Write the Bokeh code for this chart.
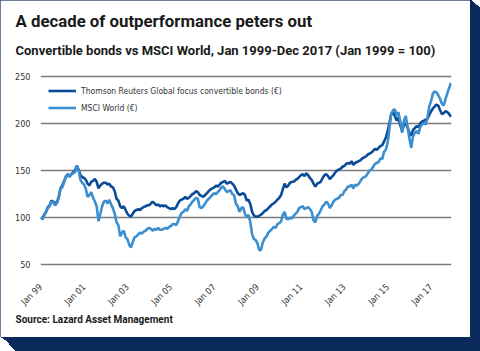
import pandas as pd
from bokeh.plotting import figure
from bokeh.models import (Range1d, FixedTicker, Legend, LegendItem, Title,
                          DatetimeTickFormatter)
from bokeh.embed import file_html
from bokeh.resources import INLINE

# ---------------- data (monthly, Jan 1999 = 100) ----------------
START = "1999-01-01"
convertibles = [
    100, 99, 103, 106, 111, 113, 118, 117, 115, 116, 122, 131,      # 1999
    134, 139, 143, 146, 144, 146, 148, 150, 155, 151, 145, 143,      # 2000
    142, 140, 136, 134, 138, 139, 141, 138, 131, 134, 136, 137,      # 2001
    137, 135, 136, 133, 132, 128, 120, 118, 112, 110, 112, 108,      # 2002
    104, 102, 101, 104, 107, 108, 109, 108, 110, 111, 112, 113,      # 2003
    113, 115, 117, 115, 113, 114, 112, 113, 112, 113, 111, 110,      # 2004
    109, 110, 109, 111, 115, 118, 119, 120, 122, 120, 121, 123,      # 2005
    125, 126, 128, 127, 124, 123, 122, 124, 126, 128, 130, 131,      # 2006
    132, 134, 133, 135, 137, 138, 139, 136, 137, 138, 136, 134,      # 2007
    130, 126, 124, 125, 126, 124, 118, 119, 114, 106, 102, 101,      # 2008
    101, 102, 103, 105, 107, 108, 110, 112, 114, 115, 117, 119,      # 2009
    121, 124, 130, 136, 132, 134, 137, 138, 138, 140, 141, 143,      # 2010
    145, 146, 144, 147, 145, 142, 140, 136, 133, 136, 137, 138,      # 2011
    142, 145, 146, 144, 141, 143, 145, 148, 150, 151, 152, 154,      # 2012
    155, 157, 158, 157, 160, 156, 158, 159, 160, 161, 163, 164,      # 2013
    165, 167, 168, 169, 171, 173, 172, 174, 176, 177, 181, 185,      # 2014
    192, 201, 210, 212, 208, 203, 206, 198, 192, 198, 200, 196,      # 2015
    190, 187, 193, 195, 197, 196, 200, 202, 203, 204, 205, 209,      # 2016
    213, 216, 218, 220, 219, 214, 210, 211, 213, 212, 210, 207,      # 2017
]
msci_world = [
    100, 98, 102, 106, 110, 112, 117, 116, 113, 115, 121, 131,       # 1999
    132, 138, 144, 146, 143, 146, 147, 148, 155, 150, 140, 137,      # 2000
    135, 130, 122, 124, 127, 121, 117, 112, 96, 104, 112, 117,       # 2001
    118, 115, 119, 114, 110, 104, 95, 92, 80, 84, 86, 79,            # 2002
    77, 71, 68, 74, 79, 80, 82, 84, 83, 85, 86, 88,                  # 2003
    89, 88, 86, 88, 87, 89, 87, 87, 88, 89, 88, 90,                  # 2004
    91, 93, 93, 92, 96, 101, 105, 106, 109, 107, 112, 114,           # 2005
    117, 119, 121, 120, 111, 110, 112, 115, 118, 120, 122, 124,      # 2006
    126, 125, 127, 129, 132, 133, 130, 127, 128, 129, 125, 124,      # 2007
    115, 112, 106, 110, 111, 104, 100, 103, 95, 82, 77, 76,          # 2008
    72, 65, 66, 74, 78, 80, 84, 86, 88, 90, 89, 93,                  # 2009
    94, 96, 103, 106, 99, 98, 100, 99, 102, 104, 106, 110,           # 2010
    111, 112, 109, 110, 111, 109, 106, 97, 95, 102, 104, 108,        # 2011
    112, 114, 117, 115, 110, 113, 117, 119, 120, 121, 124, 124,      # 2012
    128, 130, 133, 133, 135, 131, 135, 134, 136, 139, 142, 143,      # 2013
    144, 147, 150, 151, 154, 157, 158, 159, 163, 162, 170, 172,      # 2014
    180, 196, 210, 214, 215, 208, 212, 202, 190, 203, 208, 196,      # 2015
    184, 174, 186, 190, 192, 189, 196, 199, 200, 199, 206, 218,      # 2016
    224, 232, 234, 233, 230, 226, 221, 219, 226, 232, 238, 243,      # 2017
]
series_names = ["Thomson Reuters Global focus convertible bonds (\u20ac)",
                "MSCI World (\u20ac)"]
y_ticks = [50, 100, 150, 200, 250]
x_tick_years = [1999, 2001, 2003, 2005, 2007, 2009, 2011, 2013, 2015, 2017]

title_text = "A decade of outperformance peters out"
subtitle_text = "Convertible bonds vs MSCI World, Jan 1999-Dec 2017 (Jan 1999 = 100)"
source_text = "Source: Lazard Asset Management"

# ---------------- styling ----------------
W, H = 470, 337
DARK = "#0b4a97"
LIGHT = "#3b8fd0"
NAVY = "#0b2a5c"
NARROW = "'Liberation Sans Narrow', 'DejaVu Sans Condensed', 'Roboto', sans-serif"
BOLD = "Roboto"

dates = pd.date_range(START, periods=len(convertibles), freq="MS")
x0 = dates[0] - pd.Timedelta(days=3)
x1 = dates[-1] + pd.Timedelta(days=9)

p = figure(width=W, height=H, output_backend="svg", toolbar_location=None,
           x_axis_type="datetime",
           x_range=Range1d(x0, x1), y_range=Range1d(48, 252),
           min_border_left=40, min_border_right=19,
           min_border_top=74, min_border_bottom=71)
p.outline_line_color = None
p.background_fill_color = "white"
p.border_fill_color = "white"

r1 = p.line(dates, convertibles, line_color=DARK, line_width=2.6)
r2 = p.line(dates, msci_world, line_color=LIGHT, line_width=2.6)

# axes
p.yaxis.ticker = FixedTicker(ticks=y_ticks)
p.yaxis.axis_line_color = None
p.yaxis.major_tick_line_color = None
p.yaxis.minor_tick_line_color = None
p.yaxis.major_label_standoff = 4
p.yaxis.major_label_text_font = NARROW
p.yaxis.major_label_text_font_size = "9px"
p.yaxis.major_label_text_color = "#333333"

tick_ms = [pd.Timestamp(f"{y}-01-01").value / 1e6 for y in x_tick_years]
p.xaxis.ticker = FixedTicker(ticks=tick_ms)
fmt = "%b %y"
p.xaxis.formatter = DatetimeTickFormatter(
    milliseconds=fmt, seconds=fmt, minsec=fmt, minutes=fmt, hourmin=fmt,
    hours=fmt, days=fmt, months=fmt, years=fmt, context=None)
p.xaxis.major_label_orientation = 0.785398
p.xaxis.axis_line_color = None
p.xaxis.major_tick_line_color = None
p.xaxis.minor_tick_line_color = None
p.xaxis.major_label_standoff = 13
p.xaxis.major_label_text_font = NARROW
p.xaxis.major_label_text_font_size = "9px"
p.xaxis.major_label_text_color = "#333333"

p.xgrid.grid_line_color = None
p.ygrid.ticker = FixedTicker(ticks=y_ticks)
p.ygrid.grid_line_color = "#7b7b7b"
p.ygrid.grid_line_width = 1.6

legend = Legend(items=[LegendItem(label=series_names[0], renderers=[r1]),
                       LegendItem(label=series_names[1], renderers=[r2])],
                location="top_left", margin=8, padding=8,
                glyph_width=28, glyph_height=17, label_height=17, spacing=0,
                label_standoff=5, border_line_color=None,
                background_fill_alpha=0,
                label_text_font=NARROW, label_text_font_size="8.5px",
                label_text_color="#333333")
p.add_layout(legend)

# titles (stacked outward from the frame)
spacer = Title(text=" ", text_font_size="10px", standoff=2)
sub = Title(text=subtitle_text, align="left", offset=-25, standoff=4,
            text_font=BOLD, text_font_style="bold", text_font_size="13px",
            text_color="#1a1a1a")
main = Title(text=title_text, align="left", offset=-25, standoff=16,
             text_font=BOLD, text_font_style="bold", text_font_size="16.8px",
             text_color="#1a1a1a")
p.add_layout(spacer, "above")
p.add_layout(sub, "above")
p.add_layout(main, "above")

src = Title(text=source_text, align="left", offset=-25, standoff=0,
            vertical_align="top",
            text_font=BOLD, text_font_style="bold", text_font_size="10px",
            text_color="#1a1a1a")
p.add_layout(src, "below")

# box frame with navy 3D edge (page decoration)
shadows = [f"{k}px {round(0.67 * k)}px 0 0 {NAVY}" for k in range(1, 11)]
shadows += [f"{round(2 + 0.93 * d)}px {d}px 0 0 {NAVY}" for d in range(0, 15)]
p.styles = {"outline": "1px solid #3c4f78", "outline-offset": "-1px",
            "box-shadow": ", ".join(shadows)}

open("out.html", "w").write(file_html(p, INLINE))
